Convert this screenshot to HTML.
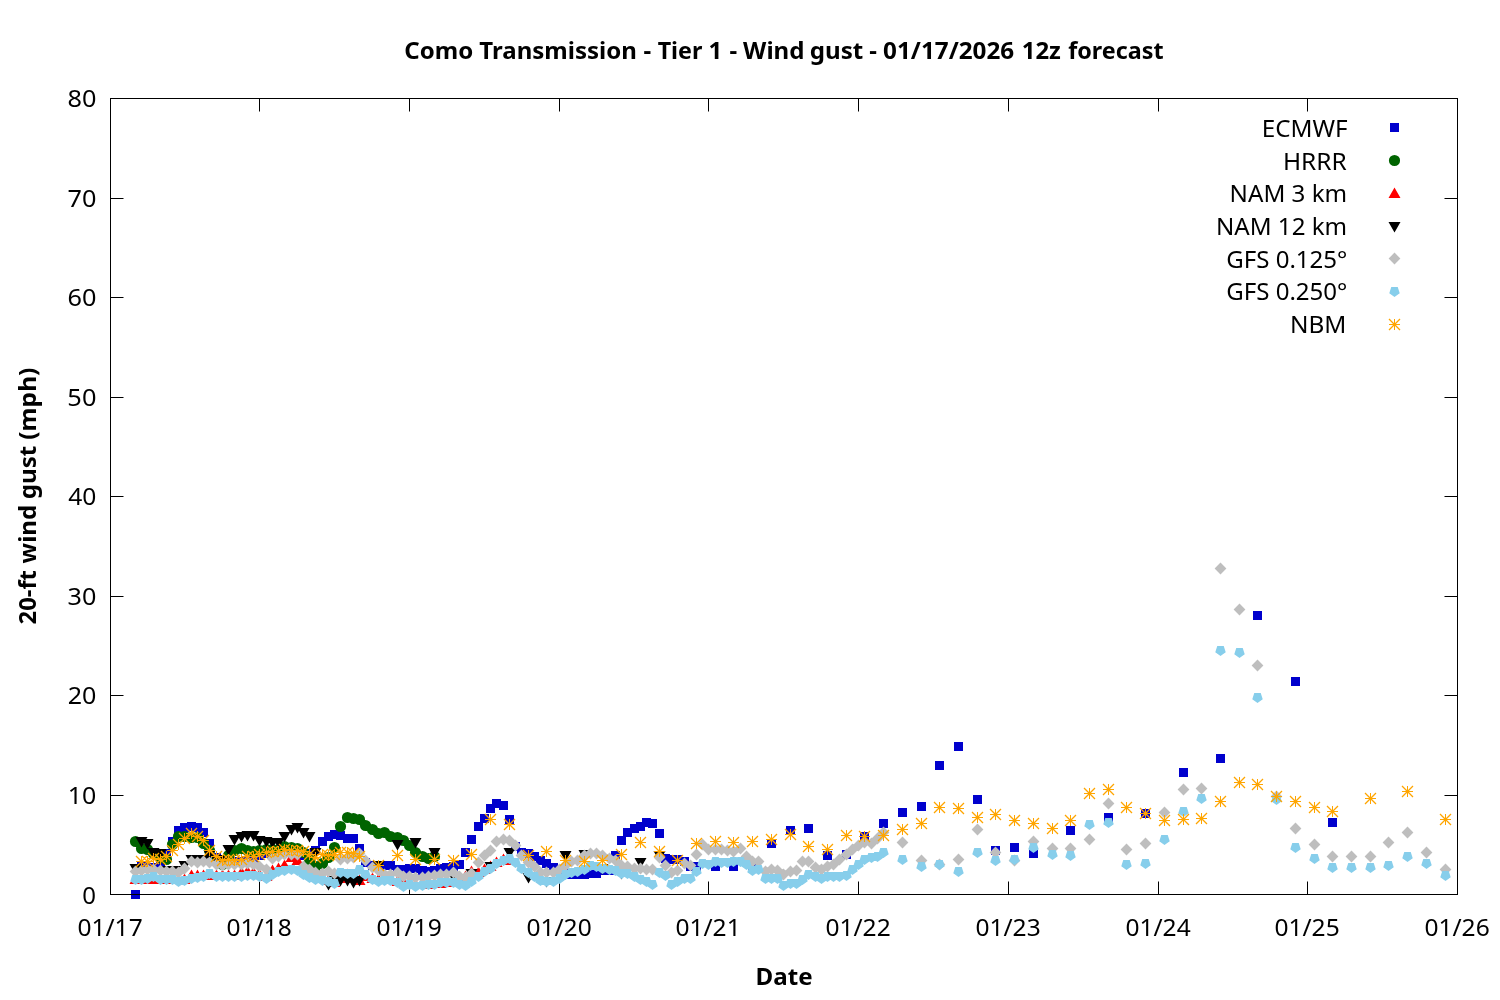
<!DOCTYPE html>
<html lang="en"><head><meta charset="utf-8"><title>Como Transmission - Tier 1 - Wind gust</title>
<style>html,body{margin:0;padding:0;background:#fff}svg{display:block}text{font-family:"Noto Sans","Liberation Sans","DejaVu Sans",sans-serif;font-size:24px;fill:#000}.b{font-weight:bold}</style></head><body>
<svg width="1500" height="1000" viewBox="0 0 1500 1000">
<rect width="1500" height="1000" fill="#fff"/>
<path d="M110.5 795.5h13M1457.5 795.5h-13M110.5 695.5h13M1457.5 695.5h-13M110.5 596.5h13M1457.5 596.5h-13M110.5 496.5h13M1457.5 496.5h-13M110.5 397.5h13M1457.5 397.5h-13M110.5 297.5h13M1457.5 297.5h-13M110.5 198.5h13M1457.5 198.5h-13M259.5 894.5v-13M259.5 98.5v13M409.5 894.5v-13M409.5 98.5v13M559.5 894.5v-13M559.5 98.5v13M708.5 894.5v-13M708.5 98.5v13M858.5 894.5v-13M858.5 98.5v13M1008.5 894.5v-13M1008.5 98.5v13M1158.5 894.5v-13M1158.5 98.5v13M1307.5 894.5v-13M1307.5 98.5v13" stroke="#000" stroke-width="1" fill="none"/>
<path d="M131 890h9v9h-9zM137 862h9v9h-9zM143 863h9v9h-9zM149 863h9v9h-9zM156 862h9v9h-9zM162 849h9v9h-9zM168 837h9v9h-9zM174 826h9v9h-9zM180 823h9v9h-9zM187 822h9v9h-9zM193 823h9v9h-9zM199 828h9v9h-9zM205 839h9v9h-9zM212 853h9v9h-9zM218 857h9v9h-9zM224 857h9v9h-9zM230 857h9v9h-9zM237 857h9v9h-9zM243 857h9v9h-9zM249 856h9v9h-9zM255 851h9v9h-9zM262 849h9v9h-9zM268 848h9v9h-9zM274 848h9v9h-9zM280 848h9v9h-9zM287 848h9v9h-9zM293 848h9v9h-9zM299 851h9v9h-9zM305 849h9v9h-9zM311 846h9v9h-9zM318 837h9v9h-9zM324 832h9v9h-9zM330 830h9v9h-9zM336 831h9v9h-9zM343 834h9v9h-9zM349 834h9v9h-9zM355 844h9v9h-9zM361 858h9v9h-9zM368 861h9v9h-9zM374 861h9v9h-9zM380 861h9v9h-9zM386 861h9v9h-9zM393 865h9v9h-9zM399 865h9v9h-9zM405 864h9v9h-9zM411 864h9v9h-9zM418 866h9v9h-9zM424 867h9v9h-9zM430 866h9v9h-9zM436 864h9v9h-9zM442 863h9v9h-9zM449 862h9v9h-9zM455 860h9v9h-9zM461 848h9v9h-9zM467 835h9v9h-9zM474 822h9v9h-9zM480 814h9v9h-9zM486 804h9v9h-9zM492 799h9v9h-9zM499 801h9v9h-9zM505 815h9v9h-9zM511 842h9v9h-9zM517 848h9v9h-9zM524 849h9v9h-9zM530 852h9v9h-9zM536 856h9v9h-9zM542 859h9v9h-9zM549 863h9v9h-9zM555 867h9v9h-9zM561 869h9v9h-9zM567 870h9v9h-9zM573 870h9v9h-9zM580 870h9v9h-9zM586 869h9v9h-9zM592 869h9v9h-9zM598 866h9v9h-9zM605 866h9v9h-9zM611 851h9v9h-9zM617 836h9v9h-9zM623 828h9v9h-9zM630 824h9v9h-9zM636 822h9v9h-9zM642 818h9v9h-9zM648 819h9v9h-9zM655 829h9v9h-9zM661 854h9v9h-9zM667 855h9v9h-9zM673 855h9v9h-9zM680 857h9v9h-9zM686 862h9v9h-9zM692 862h9v9h-9zM711 862h9v9h-9zM729 862h9v9h-9zM748 864h9v9h-9zM767 839h9v9h-9zM786 826h9v9h-9zM804 824h9v9h-9zM823 851h9v9h-9zM842 850h9v9h-9zM860 832h9v9h-9zM879 819h9v9h-9zM898 808h9v9h-9zM917 802h9v9h-9zM935 761h9v9h-9zM954 742h9v9h-9zM973 795h9v9h-9zM991 846h9v9h-9zM1010 843h9v9h-9zM1029 849h9v9h-9zM1066 826h9v9h-9zM1104 813h9v9h-9zM1141 809h9v9h-9zM1179 768h9v9h-9zM1216 754h9v9h-9zM1253 611h9v9h-9zM1291 677h9v9h-9zM1328 818h9v9h-9zM1390 123h9v9h-9z" fill="#0000cd"/>
<path d="M129.9 841.5a5.6 5.6 0 1 0 11.2 0a5.6 5.6 0 1 0 -11.2 0zM135.9 848.5a5.6 5.6 0 1 0 11.2 0a5.6 5.6 0 1 0 -11.2 0zM141.9 849.5a5.6 5.6 0 1 0 11.2 0a5.6 5.6 0 1 0 -11.2 0zM147.9 853.5a5.6 5.6 0 1 0 11.2 0a5.6 5.6 0 1 0 -11.2 0zM154.9 857.5a5.6 5.6 0 1 0 11.2 0a5.6 5.6 0 1 0 -11.2 0zM160.9 859.5a5.6 5.6 0 1 0 11.2 0a5.6 5.6 0 1 0 -11.2 0zM166.9 844.5a5.6 5.6 0 1 0 11.2 0a5.6 5.6 0 1 0 -11.2 0zM172.9 836.5a5.6 5.6 0 1 0 11.2 0a5.6 5.6 0 1 0 -11.2 0zM178.9 836.5a5.6 5.6 0 1 0 11.2 0a5.6 5.6 0 1 0 -11.2 0zM185.9 837.5a5.6 5.6 0 1 0 11.2 0a5.6 5.6 0 1 0 -11.2 0zM191.9 837.5a5.6 5.6 0 1 0 11.2 0a5.6 5.6 0 1 0 -11.2 0zM197.9 843.5a5.6 5.6 0 1 0 11.2 0a5.6 5.6 0 1 0 -11.2 0zM203.9 850.5a5.6 5.6 0 1 0 11.2 0a5.6 5.6 0 1 0 -11.2 0zM210.9 860.5a5.6 5.6 0 1 0 11.2 0a5.6 5.6 0 1 0 -11.2 0zM216.9 864.5a5.6 5.6 0 1 0 11.2 0a5.6 5.6 0 1 0 -11.2 0zM222.9 855.5a5.6 5.6 0 1 0 11.2 0a5.6 5.6 0 1 0 -11.2 0zM228.9 850.5a5.6 5.6 0 1 0 11.2 0a5.6 5.6 0 1 0 -11.2 0zM235.9 848.5a5.6 5.6 0 1 0 11.2 0a5.6 5.6 0 1 0 -11.2 0zM241.9 850.5a5.6 5.6 0 1 0 11.2 0a5.6 5.6 0 1 0 -11.2 0zM247.9 851.5a5.6 5.6 0 1 0 11.2 0a5.6 5.6 0 1 0 -11.2 0zM253.9 850.5a5.6 5.6 0 1 0 11.2 0a5.6 5.6 0 1 0 -11.2 0zM260.9 849.5a5.6 5.6 0 1 0 11.2 0a5.6 5.6 0 1 0 -11.2 0zM266.9 849.5a5.6 5.6 0 1 0 11.2 0a5.6 5.6 0 1 0 -11.2 0zM272.9 849.5a5.6 5.6 0 1 0 11.2 0a5.6 5.6 0 1 0 -11.2 0zM278.9 846.5a5.6 5.6 0 1 0 11.2 0a5.6 5.6 0 1 0 -11.2 0zM285.9 847.5a5.6 5.6 0 1 0 11.2 0a5.6 5.6 0 1 0 -11.2 0zM291.9 848.5a5.6 5.6 0 1 0 11.2 0a5.6 5.6 0 1 0 -11.2 0zM297.9 852.5a5.6 5.6 0 1 0 11.2 0a5.6 5.6 0 1 0 -11.2 0zM303.9 859.5a5.6 5.6 0 1 0 11.2 0a5.6 5.6 0 1 0 -11.2 0zM309.9 866.5a5.6 5.6 0 1 0 11.2 0a5.6 5.6 0 1 0 -11.2 0zM316.9 863.5a5.6 5.6 0 1 0 11.2 0a5.6 5.6 0 1 0 -11.2 0zM322.9 857.5a5.6 5.6 0 1 0 11.2 0a5.6 5.6 0 1 0 -11.2 0zM328.9 847.5a5.6 5.6 0 1 0 11.2 0a5.6 5.6 0 1 0 -11.2 0zM334.9 826.5a5.6 5.6 0 1 0 11.2 0a5.6 5.6 0 1 0 -11.2 0zM341.9 817.5a5.6 5.6 0 1 0 11.2 0a5.6 5.6 0 1 0 -11.2 0zM347.9 818.5a5.6 5.6 0 1 0 11.2 0a5.6 5.6 0 1 0 -11.2 0zM353.9 819.5a5.6 5.6 0 1 0 11.2 0a5.6 5.6 0 1 0 -11.2 0zM359.9 825.5a5.6 5.6 0 1 0 11.2 0a5.6 5.6 0 1 0 -11.2 0zM366.9 829.5a5.6 5.6 0 1 0 11.2 0a5.6 5.6 0 1 0 -11.2 0zM372.9 833.5a5.6 5.6 0 1 0 11.2 0a5.6 5.6 0 1 0 -11.2 0zM378.9 832.5a5.6 5.6 0 1 0 11.2 0a5.6 5.6 0 1 0 -11.2 0zM384.9 836.5a5.6 5.6 0 1 0 11.2 0a5.6 5.6 0 1 0 -11.2 0zM391.9 837.5a5.6 5.6 0 1 0 11.2 0a5.6 5.6 0 1 0 -11.2 0zM397.9 840.5a5.6 5.6 0 1 0 11.2 0a5.6 5.6 0 1 0 -11.2 0zM403.9 845.5a5.6 5.6 0 1 0 11.2 0a5.6 5.6 0 1 0 -11.2 0zM409.9 852.5a5.6 5.6 0 1 0 11.2 0a5.6 5.6 0 1 0 -11.2 0zM416.9 856.5a5.6 5.6 0 1 0 11.2 0a5.6 5.6 0 1 0 -11.2 0zM422.9 858.5a5.6 5.6 0 1 0 11.2 0a5.6 5.6 0 1 0 -11.2 0zM428.9 856.5a5.6 5.6 0 1 0 11.2 0a5.6 5.6 0 1 0 -11.2 0zM1388.9 160.5a5.6 5.6 0 1 0 11.2 0a5.6 5.6 0 1 0 -11.2 0z" fill="#006400"/>
<path d="M135.5 873.5L129.5 884L141.5 884zM141.5 873.5L135.5 884L147.5 884zM147.5 873.5L141.5 884L153.5 884zM153.5 873.5L147.5 884L159.5 884zM160.5 873.5L154.5 884L166.5 884zM166.5 873.5L160.5 884L172.5 884zM172.5 873.5L166.5 884L178.5 884zM178.5 873.5L172.5 884L184.5 884zM184.5 873.5L178.5 884L190.5 884zM191.5 869.5L185.5 880L197.5 880zM197.5 869.5L191.5 880L203.5 880zM203.5 869.5L197.5 880L209.5 880zM209.5 869.5L203.5 880L215.5 880zM216.5 869.5L210.5 880L222.5 880zM222.5 869.5L216.5 880L228.5 880zM228.5 869.5L222.5 880L234.5 880zM234.5 869.5L228.5 880L240.5 880zM241.5 866.5L235.5 877L247.5 877zM247.5 865.5L241.5 876L253.5 876zM253.5 866.5L247.5 877L259.5 877zM259.5 868.5L253.5 879L265.5 879zM266.5 870.5L260.5 881L272.5 881zM272.5 864.5L266.5 875L278.5 875zM278.5 862.5L272.5 873L284.5 873zM284.5 859.5L278.5 870L290.5 870zM291.5 851.5L285.5 862L297.5 862zM297.5 854.5L291.5 865L303.5 865zM303.5 864.5L297.5 875L309.5 875zM309.5 868.5L303.5 879L315.5 879zM315.5 870.5L309.5 881L321.5 881zM322.5 872.5L316.5 883L328.5 883zM328.5 874.5L322.5 885L334.5 885zM334.5 876.5L328.5 887L340.5 887zM340.5 872.5L334.5 883L346.5 883zM347.5 868.5L341.5 879L353.5 879zM353.5 872.5L347.5 883L359.5 883zM359.5 874.5L353.5 885L365.5 885zM365.5 870.5L359.5 881L371.5 881zM372.5 872.5L366.5 883L378.5 883zM378.5 873.5L372.5 884L384.5 884zM384.5 872.5L378.5 883L390.5 883zM390.5 871.5L384.5 882L396.5 882zM397.5 875.5L391.5 886L403.5 886zM403.5 876.5L397.5 887L409.5 887zM409.5 878.5L403.5 889L415.5 889zM415.5 878.5L409.5 889L421.5 889zM422.5 878.5L416.5 889L428.5 889zM428.5 878.5L422.5 889L434.5 889zM434.5 877.5L428.5 888L440.5 888zM440.5 877.5L434.5 888L446.5 888zM446.5 876.5L440.5 887L452.5 887zM453.5 876.5L447.5 887L459.5 887zM459.5 874.5L453.5 885L465.5 885zM465.5 870.5L459.5 881L471.5 881zM471.5 865.5L465.5 876L477.5 876zM478.5 866.5L472.5 877L484.5 877zM484.5 863.5L478.5 874L490.5 874zM490.5 860.5L484.5 871L496.5 871zM496.5 856.5L490.5 867L502.5 867zM503.5 853.5L497.5 864L509.5 864zM509.5 854.5L503.5 865L515.5 865zM1394.5 187.5L1388.5 198L1400.5 198z" fill="#ff0000"/>
<path d="M135.5 874.5L129.5 864L141.5 864zM141.5 847.5L135.5 837L147.5 837zM147.5 849.5L141.5 839L153.5 839zM153.5 858.5L147.5 848L159.5 848zM160.5 859.5L154.5 849L166.5 849zM166.5 876.5L160.5 866L172.5 866zM172.5 876.5L166.5 866L178.5 866zM178.5 876.5L172.5 866L184.5 866zM184.5 871.5L178.5 861L190.5 861zM191.5 865.5L185.5 855L197.5 855zM197.5 865.5L191.5 855L203.5 855zM203.5 865.5L197.5 855L209.5 855zM209.5 860.5L203.5 850L215.5 850zM216.5 865.5L210.5 855L222.5 855zM222.5 866.5L216.5 856L228.5 856zM228.5 855.5L222.5 845L234.5 845zM234.5 845.5L228.5 835L240.5 835zM241.5 842.5L235.5 832L247.5 832zM247.5 841.5L241.5 831L253.5 831zM253.5 841.5L247.5 831L259.5 831zM259.5 846.5L253.5 836L265.5 836zM266.5 847.5L260.5 837L272.5 837zM272.5 848.5L266.5 838L278.5 838zM278.5 848.5L272.5 838L284.5 838zM284.5 842.5L278.5 832L290.5 832zM291.5 835.5L285.5 825L297.5 825zM297.5 833.5L291.5 823L303.5 823zM303.5 838.5L297.5 828L309.5 828zM309.5 842.5L303.5 832L315.5 832zM315.5 858.5L309.5 848L321.5 848zM322.5 880.5L316.5 870L328.5 870zM328.5 890.5L322.5 880L334.5 880zM334.5 886.5L328.5 876L340.5 876zM340.5 886.5L334.5 876L346.5 876zM347.5 886.5L341.5 876L353.5 876zM353.5 888.5L347.5 878L359.5 878zM359.5 886.5L353.5 876L365.5 876zM378.5 871.5L372.5 861L384.5 861zM397.5 850.5L391.5 840L403.5 840zM415.5 848.5L409.5 838L421.5 838zM434.5 858.5L428.5 848L440.5 848zM453.5 882.5L447.5 872L459.5 872zM471.5 879.5L465.5 869L477.5 869zM490.5 872.5L484.5 862L496.5 862zM509.5 858.5L503.5 848L515.5 848zM528.5 883.5L522.5 873L534.5 873zM546.5 887.5L540.5 877L552.5 877zM565.5 861.5L559.5 851L571.5 851zM584.5 860.5L578.5 850L590.5 850zM602.5 874.5L596.5 864L608.5 864zM621.5 879.5L615.5 869L627.5 869zM640.5 868.5L634.5 858L646.5 858zM659.5 861.5L653.5 851L665.5 851zM1394.5 232.5L1388.5 222L1400.5 222z" fill="#000000"/>
<path d="M129.6 871.5L135.5 865.6L141.4 871.5L135.5 877.4zM135.6 870.5L141.5 864.6L147.4 870.5L141.5 876.4zM141.6 869.5L147.5 863.6L153.4 869.5L147.5 875.4zM147.6 869.5L153.5 863.6L159.4 869.5L153.5 875.4zM154.6 870.5L160.5 864.6L166.4 870.5L160.5 876.4zM160.6 871.5L166.5 865.6L172.4 871.5L166.5 877.4zM166.6 871.5L172.5 865.6L178.4 871.5L172.5 877.4zM172.6 872.5L178.5 866.6L184.4 872.5L178.5 878.4zM178.6 868.5L184.5 862.6L190.4 868.5L184.5 874.4zM185.6 861.5L191.5 855.6L197.4 861.5L191.5 867.4zM191.6 862.5L197.5 856.6L203.4 862.5L197.5 868.4zM197.6 861.5L203.5 855.6L209.4 861.5L203.5 867.4zM203.6 862.5L209.5 856.6L215.4 862.5L209.5 868.4zM210.6 864.5L216.5 858.6L222.4 864.5L216.5 870.4zM216.6 865.5L222.5 859.6L228.4 865.5L222.5 871.4zM222.6 864.5L228.5 858.6L234.4 864.5L228.5 870.4zM228.6 864.5L234.5 858.6L240.4 864.5L234.5 870.4zM235.6 864.5L241.5 858.6L247.4 864.5L241.5 870.4zM241.6 863.5L247.5 857.6L253.4 863.5L247.5 869.4zM247.6 864.5L253.5 858.6L259.4 864.5L253.5 870.4zM253.6 866.5L259.5 860.6L265.4 866.5L259.5 872.4zM260.6 869.5L266.5 863.6L272.4 869.5L266.5 875.4zM266.6 858.5L272.5 852.6L278.4 858.5L272.5 864.4zM272.6 856.5L278.5 850.6L284.4 856.5L278.5 862.4zM278.6 854.5L284.5 848.6L290.4 854.5L284.5 860.4zM285.6 854.5L291.5 848.6L297.4 854.5L291.5 860.4zM291.6 854.5L297.5 848.6L303.4 854.5L297.5 860.4zM297.6 866.5L303.5 860.6L309.4 866.5L303.5 872.4zM303.6 869.5L309.5 863.6L315.4 869.5L309.5 875.4zM309.6 872.5L315.5 866.6L321.4 872.5L315.5 878.4zM316.6 873.5L322.5 867.6L328.4 873.5L322.5 879.4zM322.6 871.5L328.5 865.6L334.4 871.5L328.5 877.4zM328.6 873.5L334.5 867.6L340.4 873.5L334.5 879.4zM334.6 859.5L340.5 853.6L346.4 859.5L340.5 865.4zM341.6 858.5L347.5 852.6L353.4 858.5L347.5 864.4zM347.6 857.5L353.5 851.6L359.4 857.5L353.5 863.4zM353.6 853.5L359.5 847.6L365.4 853.5L359.5 859.4zM359.6 860.5L365.5 854.6L371.4 860.5L365.5 866.4zM366.6 867.5L372.5 861.6L378.4 867.5L372.5 873.4zM372.6 870.5L378.5 864.6L384.4 870.5L378.5 876.4zM378.6 874.5L384.5 868.6L390.4 874.5L384.5 880.4zM384.6 874.5L390.5 868.6L396.4 874.5L390.5 880.4zM391.6 872.5L397.5 866.6L403.4 872.5L397.5 878.4zM397.6 876.5L403.5 870.6L409.4 876.5L403.5 882.4zM403.6 876.5L409.5 870.6L415.4 876.5L409.5 882.4zM409.6 877.5L415.5 871.6L421.4 877.5L415.5 883.4zM416.6 877.5L422.5 871.6L428.4 877.5L422.5 883.4zM422.6 876.5L428.5 870.6L434.4 876.5L428.5 882.4zM428.6 875.5L434.5 869.6L440.4 875.5L434.5 881.4zM434.6 874.5L440.5 868.6L446.4 874.5L440.5 880.4zM440.6 874.5L446.5 868.6L452.4 874.5L446.5 880.4zM447.6 872.5L453.5 866.6L459.4 872.5L453.5 878.4zM453.6 876.5L459.5 870.6L465.4 876.5L459.5 882.4zM459.6 877.5L465.5 871.6L471.4 877.5L465.5 883.4zM465.6 873.5L471.5 867.6L477.4 873.5L471.5 879.4zM472.6 862.5L478.5 856.6L484.4 862.5L478.5 868.4zM478.6 855.5L484.5 849.6L490.4 855.5L484.5 861.4zM484.6 850.5L490.5 844.6L496.4 850.5L490.5 856.4zM490.6 841.5L496.5 835.6L502.4 841.5L496.5 847.4zM497.6 839.5L503.5 833.6L509.4 839.5L503.5 845.4zM503.6 840.5L509.5 834.6L515.4 840.5L509.5 846.4zM509.6 845.5L515.5 839.6L521.4 845.5L515.5 851.4zM515.6 855.5L521.5 849.6L527.4 855.5L521.5 861.4zM522.6 862.5L528.5 856.6L534.4 862.5L528.5 868.4zM528.6 866.5L534.5 860.6L540.4 866.5L534.5 872.4zM534.6 872.5L540.5 866.6L546.4 872.5L540.5 878.4zM540.6 872.5L546.5 866.6L552.4 872.5L546.5 878.4zM547.6 872.5L553.5 866.6L559.4 872.5L553.5 878.4zM553.6 869.5L559.5 863.6L565.4 869.5L559.5 875.4zM559.6 865.5L565.5 859.6L571.4 865.5L565.5 871.4zM565.6 861.5L571.5 855.6L577.4 861.5L571.5 867.4zM571.6 860.5L577.5 854.6L583.4 860.5L577.5 866.4zM578.6 855.5L584.5 849.6L590.4 855.5L584.5 861.4zM584.6 853.5L590.5 847.6L596.4 853.5L590.5 859.4zM590.6 853.5L596.5 847.6L602.4 853.5L596.5 859.4zM596.6 855.5L602.5 849.6L608.4 855.5L602.5 861.4zM603.6 858.5L609.5 852.6L615.4 858.5L609.5 864.4zM609.6 860.5L615.5 854.6L621.4 860.5L615.5 866.4zM615.6 865.5L621.5 859.6L627.4 865.5L621.5 871.4zM621.6 866.5L627.5 860.6L633.4 866.5L627.5 872.4zM628.6 868.5L634.5 862.6L640.4 868.5L634.5 874.4zM634.6 868.5L640.5 862.6L646.4 868.5L640.5 874.4zM640.6 869.5L646.5 863.6L652.4 869.5L646.5 875.4zM646.6 869.5L652.5 863.6L658.4 869.5L652.5 875.4zM653.6 857.5L659.5 851.6L665.4 857.5L659.5 863.4zM659.6 865.5L665.5 859.6L671.4 865.5L665.5 871.4zM665.6 872.5L671.5 866.6L677.4 872.5L671.5 878.4zM671.6 870.5L677.5 864.6L683.4 870.5L677.5 876.4zM678.6 863.5L684.5 857.6L690.4 863.5L684.5 869.4zM684.6 865.5L690.5 859.6L696.4 865.5L690.5 871.4zM690.6 854.5L696.5 848.6L702.4 854.5L696.5 860.4zM696.6 844.5L702.5 838.6L708.4 844.5L702.5 850.4zM702.6 849.5L708.5 843.6L714.4 849.5L708.5 855.4zM709.6 849.5L715.5 843.6L721.4 849.5L715.5 855.4zM715.6 849.5L721.5 843.6L727.4 849.5L721.5 855.4zM721.6 850.5L727.5 844.6L733.4 850.5L727.5 856.4zM727.6 851.5L733.5 845.6L739.4 851.5L733.5 857.4zM734.6 848.5L740.5 842.6L746.4 848.5L740.5 854.4zM740.6 856.5L746.5 850.6L752.4 856.5L746.5 862.4zM746.6 861.5L752.5 855.6L758.4 861.5L752.5 867.4zM752.6 861.5L758.5 855.6L764.4 861.5L758.5 867.4zM759.6 871.5L765.5 865.6L771.4 871.5L765.5 877.4zM765.6 869.5L771.5 863.6L777.4 869.5L771.5 875.4zM771.6 870.5L777.5 864.6L783.4 870.5L777.5 876.4zM777.6 874.5L783.5 868.6L789.4 874.5L783.5 880.4zM784.6 871.5L790.5 865.6L796.4 871.5L790.5 877.4zM790.6 870.5L796.5 864.6L802.4 870.5L796.5 876.4zM796.6 861.5L802.5 855.6L808.4 861.5L802.5 867.4zM802.6 861.5L808.5 855.6L814.4 861.5L808.5 867.4zM809.6 867.5L815.5 861.6L821.4 867.5L815.5 873.4zM815.6 869.5L821.5 863.6L827.4 869.5L821.5 875.4zM821.6 866.5L827.5 860.6L833.4 866.5L827.5 872.4zM827.6 864.5L833.5 858.6L839.4 864.5L833.5 870.4zM833.6 859.5L839.5 853.6L845.4 859.5L839.5 865.4zM840.6 854.5L846.5 848.6L852.4 854.5L846.5 860.4zM846.6 849.5L852.5 843.6L858.4 849.5L852.5 855.4zM852.6 845.5L858.5 839.6L864.4 845.5L858.5 851.4zM858.6 842.5L864.5 836.6L870.4 842.5L864.5 848.4zM865.6 843.5L871.5 837.6L877.4 843.5L871.5 849.4zM871.6 838.5L877.5 832.6L883.4 838.5L877.5 844.4zM877.6 832.5L883.5 826.6L889.4 832.5L883.5 838.4zM896.6 842.5L902.5 836.6L908.4 842.5L902.5 848.4zM915.6 860.5L921.5 854.6L927.4 860.5L921.5 866.4zM933.6 864.5L939.5 858.6L945.4 864.5L939.5 870.4zM952.6 859.5L958.5 853.6L964.4 859.5L958.5 865.4zM971.6 829.5L977.5 823.6L983.4 829.5L977.5 835.4zM989.6 852.5L995.5 846.6L1001.4 852.5L995.5 858.4zM1008.6 860.5L1014.5 854.6L1020.4 860.5L1014.5 866.4zM1027.6 841.5L1033.5 835.6L1039.4 841.5L1033.5 847.4zM1046.6 848.5L1052.5 842.6L1058.4 848.5L1052.5 854.4zM1064.6 848.5L1070.5 842.6L1076.4 848.5L1070.5 854.4zM1083.6 839.5L1089.5 833.6L1095.4 839.5L1089.5 845.4zM1102.6 803.5L1108.5 797.6L1114.4 803.5L1108.5 809.4zM1120.6 849.5L1126.5 843.6L1132.4 849.5L1126.5 855.4zM1139.6 843.5L1145.5 837.6L1151.4 843.5L1145.5 849.4zM1158.6 812.5L1164.5 806.6L1170.4 812.5L1164.5 818.4zM1177.6 789.5L1183.5 783.6L1189.4 789.5L1183.5 795.4zM1195.6 788.5L1201.5 782.6L1207.4 788.5L1201.5 794.4zM1214.6 568.5L1220.5 562.6L1226.4 568.5L1220.5 574.4zM1233.6 609.5L1239.5 603.6L1245.4 609.5L1239.5 615.4zM1251.6 665.5L1257.5 659.6L1263.4 665.5L1257.5 671.4zM1270.6 796.5L1276.5 790.6L1282.4 796.5L1276.5 802.4zM1289.6 828.5L1295.5 822.6L1301.4 828.5L1295.5 834.4zM1308.6 844.5L1314.5 838.6L1320.4 844.5L1314.5 850.4zM1326.6 856.5L1332.5 850.6L1338.4 856.5L1332.5 862.4zM1345.6 856.5L1351.5 850.6L1357.4 856.5L1351.5 862.4zM1364.6 856.5L1370.5 850.6L1376.4 856.5L1370.5 862.4zM1382.6 842.5L1388.5 836.6L1394.4 842.5L1388.5 848.4zM1401.6 832.5L1407.5 826.6L1413.4 832.5L1407.5 838.4zM1420.6 852.5L1426.5 846.6L1432.4 852.5L1426.5 858.4zM1439.6 869.5L1445.5 863.6L1451.4 869.5L1445.5 875.4zM1388.6 258.5L1394.5 252.6L1400.4 258.5L1394.5 264.4z" fill="#bebebe"/>
<path d="M138.73 875.05L132.27 875.05L130.27 881.2L135.5 885L140.73 881.2zM144.73 875.05L138.27 875.05L136.27 881.2L141.5 885L146.73 881.2zM150.73 874.05L144.27 874.05L142.27 880.2L147.5 884L152.73 880.2zM156.73 872.05L150.27 872.05L148.27 878.2L153.5 882L158.73 878.2zM163.73 875.05L157.27 875.05L155.27 881.2L160.5 885L165.73 881.2zM169.73 875.05L163.27 875.05L161.27 881.2L166.5 885L171.73 881.2zM175.73 875.05L169.27 875.05L167.27 881.2L172.5 885L177.73 881.2zM181.73 877.05L175.27 877.05L173.27 883.2L178.5 887L183.73 883.2zM187.73 876.05L181.27 876.05L179.27 882.2L184.5 886L189.73 882.2zM194.73 874.05L188.27 874.05L186.27 880.2L191.5 884L196.73 880.2zM200.73 873.05L194.27 873.05L192.27 879.2L197.5 883L202.73 879.2zM206.73 872.05L200.27 872.05L198.27 878.2L203.5 882L208.73 878.2zM212.73 869.05L206.27 869.05L204.27 875.2L209.5 879L214.73 875.2zM219.73 872.05L213.27 872.05L211.27 878.2L216.5 882L221.73 878.2zM225.73 872.05L219.27 872.05L217.27 878.2L222.5 882L227.73 878.2zM231.73 872.05L225.27 872.05L223.27 878.2L228.5 882L233.73 878.2zM237.73 872.05L231.27 872.05L229.27 878.2L234.5 882L239.73 878.2zM244.73 872.05L238.27 872.05L236.27 878.2L241.5 882L246.73 878.2zM250.73 871.05L244.27 871.05L242.27 877.2L247.5 881L252.73 877.2zM256.73 871.05L250.27 871.05L248.27 877.2L253.5 881L258.73 877.2zM262.73 872.05L256.27 872.05L254.27 878.2L259.5 882L264.73 878.2zM269.73 874.05L263.27 874.05L261.27 880.2L266.5 884L271.73 880.2zM275.73 870.05L269.27 870.05L267.27 876.2L272.5 880L277.73 876.2zM281.73 867.05L275.27 867.05L273.27 873.2L278.5 877L283.73 873.2zM287.73 866.05L281.27 866.05L279.27 872.2L284.5 876L289.73 872.2zM294.73 865.05L288.27 865.05L286.27 871.2L291.5 875L296.73 871.2zM300.73 866.05L294.27 866.05L292.27 872.2L297.5 876L302.73 872.2zM306.73 870.05L300.27 870.05L298.27 876.2L303.5 880L308.73 876.2zM312.73 873.05L306.27 873.05L304.27 879.2L309.5 883L314.73 879.2zM318.73 875.05L312.27 875.05L310.27 881.2L315.5 885L320.73 881.2zM325.73 876.05L319.27 876.05L317.27 882.2L322.5 886L327.73 882.2zM331.73 877.05L325.27 877.05L323.27 883.2L328.5 887L333.73 883.2zM337.73 879.05L331.27 879.05L329.27 885.2L334.5 889L339.73 885.2zM343.73 868.05L337.27 868.05L335.27 874.2L340.5 878L345.73 874.2zM350.73 869.05L344.27 869.05L342.27 875.2L347.5 879L352.73 875.2zM356.73 869.05L350.27 869.05L348.27 875.2L353.5 879L358.73 875.2zM362.73 865.05L356.27 865.05L354.27 871.2L359.5 875L364.73 871.2zM368.73 870.05L362.27 870.05L360.27 876.2L365.5 880L370.73 876.2zM375.73 875.05L369.27 875.05L367.27 881.2L372.5 885L377.73 881.2zM381.73 877.05L375.27 877.05L373.27 883.2L378.5 887L383.73 883.2zM387.73 876.05L381.27 876.05L379.27 882.2L384.5 886L389.73 882.2zM393.73 876.05L387.27 876.05L385.27 882.2L390.5 886L395.73 882.2zM400.73 878.05L394.27 878.05L392.27 884.2L397.5 888L402.73 884.2zM406.73 882.05L400.27 882.05L398.27 888.2L403.5 892L408.73 888.2zM412.73 880.05L406.27 880.05L404.27 886.2L409.5 890L414.73 886.2zM418.73 882.05L412.27 882.05L410.27 888.2L415.5 892L420.73 888.2zM425.73 881.05L419.27 881.05L417.27 887.2L422.5 891L427.73 887.2zM431.73 880.05L425.27 880.05L423.27 886.2L428.5 890L433.73 886.2zM437.73 880.05L431.27 880.05L429.27 886.2L434.5 890L439.73 886.2zM443.73 878.05L437.27 878.05L435.27 884.2L440.5 888L445.73 884.2zM449.73 878.05L443.27 878.05L441.27 884.2L446.5 888L451.73 884.2zM456.73 878.05L450.27 878.05L448.27 884.2L453.5 888L458.73 884.2zM462.73 880.05L456.27 880.05L454.27 886.2L459.5 890L464.73 886.2zM468.73 881.05L462.27 881.05L460.27 887.2L465.5 891L470.73 887.2zM474.73 877.05L468.27 877.05L466.27 883.2L471.5 887L476.73 883.2zM481.73 872.05L475.27 872.05L473.27 878.2L478.5 882L483.73 878.2zM487.73 867.05L481.27 867.05L479.27 873.2L484.5 877L489.73 873.2zM493.73 864.05L487.27 864.05L485.27 870.2L490.5 874L495.73 870.2zM499.73 859.05L493.27 859.05L491.27 865.2L496.5 869L501.73 865.2zM506.73 856.05L500.27 856.05L498.27 862.2L503.5 866L508.73 862.2zM512.73 854.05L506.27 854.05L504.27 860.2L509.5 864L514.73 860.2zM518.73 858.05L512.27 858.05L510.27 864.2L515.5 868L520.73 864.2zM524.73 864.05L518.27 864.05L516.27 870.2L521.5 874L526.73 870.2zM531.73 868.05L525.27 868.05L523.27 874.2L528.5 878L533.73 874.2zM537.73 872.05L531.27 872.05L529.27 878.2L534.5 882L539.73 878.2zM543.73 876.05L537.27 876.05L535.27 882.2L540.5 886L545.73 882.2zM549.73 877.05L543.27 877.05L541.27 883.2L546.5 887L551.73 883.2zM556.73 877.05L550.27 877.05L548.27 883.2L553.5 887L558.73 883.2zM562.73 874.05L556.27 874.05L554.27 880.2L559.5 884L564.73 880.2zM568.73 870.05L562.27 870.05L560.27 876.2L565.5 880L570.73 876.2zM574.73 868.05L568.27 868.05L566.27 874.2L571.5 878L576.73 874.2zM580.73 867.05L574.27 867.05L572.27 873.2L577.5 877L582.73 873.2zM587.73 865.05L581.27 865.05L579.27 871.2L584.5 875L589.73 871.2zM593.73 861.05L587.27 861.05L585.27 867.2L590.5 871L595.73 867.2zM599.73 862.05L593.27 862.05L591.27 868.2L596.5 872L601.73 868.2zM605.73 864.05L599.27 864.05L597.27 870.2L602.5 874L607.73 870.2zM612.73 865.05L606.27 865.05L604.27 871.2L609.5 875L614.73 871.2zM618.73 866.05L612.27 866.05L610.27 872.2L615.5 876L620.73 872.2zM624.73 869.05L618.27 869.05L616.27 875.2L621.5 879L626.73 875.2zM630.73 869.05L624.27 869.05L622.27 875.2L627.5 879L632.73 875.2zM637.73 872.05L631.27 872.05L629.27 878.2L634.5 882L639.73 878.2zM643.73 875.05L637.27 875.05L635.27 881.2L640.5 885L645.73 881.2zM649.73 877.05L643.27 877.05L641.27 883.2L646.5 887L651.73 883.2zM655.73 880.05L649.27 880.05L647.27 886.2L652.5 890L657.73 886.2zM662.73 868.05L656.27 868.05L654.27 874.2L659.5 878L664.73 874.2zM668.73 871.05L662.27 871.05L660.27 877.2L665.5 881L670.73 877.2zM674.73 880.05L668.27 880.05L666.27 886.2L671.5 890L676.73 886.2zM680.73 877.05L674.27 877.05L672.27 883.2L677.5 887L682.73 883.2zM687.73 874.05L681.27 874.05L679.27 880.2L684.5 884L689.73 880.2zM693.73 874.05L687.27 874.05L685.27 880.2L690.5 884L695.73 880.2zM699.73 867.05L693.27 867.05L691.27 873.2L696.5 877L701.73 873.2zM705.73 859.05L699.27 859.05L697.27 865.2L702.5 869L707.73 865.2zM711.73 860.05L705.27 860.05L703.27 866.2L708.5 870L713.73 866.2zM718.73 857.05L712.27 857.05L710.27 863.2L715.5 867L720.73 863.2zM724.73 858.05L718.27 858.05L716.27 864.2L721.5 868L726.73 864.2zM730.73 858.05L724.27 858.05L722.27 864.2L727.5 868L732.73 864.2zM736.73 857.05L730.27 857.05L728.27 863.2L733.5 867L738.73 863.2zM743.73 857.05L737.27 857.05L735.27 863.2L740.5 867L745.73 863.2zM749.73 860.05L743.27 860.05L741.27 866.2L746.5 870L751.73 866.2zM755.73 866.05L749.27 866.05L747.27 872.2L752.5 876L757.73 872.2zM761.73 865.05L755.27 865.05L753.27 871.2L758.5 875L763.73 871.2zM768.73 874.05L762.27 874.05L760.27 880.2L765.5 884L770.73 880.2zM774.73 874.05L768.27 874.05L766.27 880.2L771.5 884L776.73 880.2zM780.73 874.05L774.27 874.05L772.27 880.2L777.5 884L782.73 880.2zM786.73 881.05L780.27 881.05L778.27 887.2L783.5 891L788.73 887.2zM793.73 879.05L787.27 879.05L785.27 885.2L790.5 889L795.73 885.2zM799.73 879.05L793.27 879.05L791.27 885.2L796.5 889L801.73 885.2zM805.73 875.05L799.27 875.05L797.27 881.2L802.5 885L807.73 881.2zM811.73 870.05L805.27 870.05L803.27 876.2L808.5 880L813.73 876.2zM818.73 872.05L812.27 872.05L810.27 878.2L815.5 882L820.73 878.2zM824.73 874.05L818.27 874.05L816.27 880.2L821.5 884L826.73 880.2zM830.73 872.05L824.27 872.05L822.27 878.2L827.5 882L832.73 878.2zM836.73 872.05L830.27 872.05L828.27 878.2L833.5 882L838.73 878.2zM842.73 872.05L836.27 872.05L834.27 878.2L839.5 882L844.73 878.2zM849.73 871.05L843.27 871.05L841.27 877.2L846.5 881L851.73 877.2zM855.73 865.05L849.27 865.05L847.27 871.2L852.5 875L857.73 871.2zM861.73 860.05L855.27 860.05L853.27 866.2L858.5 870L863.73 866.2zM867.73 855.05L861.27 855.05L859.27 861.2L864.5 865L869.73 861.2zM874.73 853.05L868.27 853.05L866.27 859.2L871.5 863L876.73 859.2zM880.73 852.05L874.27 852.05L872.27 858.2L877.5 862L882.73 858.2zM886.73 848.05L880.27 848.05L878.27 854.2L883.5 858L888.73 854.2zM905.73 855.05L899.27 855.05L897.27 861.2L902.5 865L907.73 861.2zM924.73 862.05L918.27 862.05L916.27 868.2L921.5 872L926.73 868.2zM942.73 860.05L936.27 860.05L934.27 866.2L939.5 870L944.73 866.2zM961.73 867.05L955.27 867.05L953.27 873.2L958.5 877L963.73 873.2zM980.73 848.05L974.27 848.05L972.27 854.2L977.5 858L982.73 854.2zM998.73 856.05L992.27 856.05L990.27 862.2L995.5 866L1000.73 862.2zM1017.73 855.05L1011.27 855.05L1009.27 861.2L1014.5 865L1019.73 861.2zM1036.73 843.05L1030.27 843.05L1028.27 849.2L1033.5 853L1038.73 849.2zM1055.73 850.05L1049.27 850.05L1047.27 856.2L1052.5 860L1057.73 856.2zM1073.73 851.05L1067.27 851.05L1065.27 857.2L1070.5 861L1075.73 857.2zM1092.73 820.05L1086.27 820.05L1084.27 826.2L1089.5 830L1094.73 826.2zM1111.73 818.05L1105.27 818.05L1103.27 824.2L1108.5 828L1113.73 824.2zM1129.73 860.05L1123.27 860.05L1121.27 866.2L1126.5 870L1131.73 866.2zM1148.73 859.05L1142.27 859.05L1140.27 865.2L1145.5 869L1150.73 865.2zM1167.73 835.05L1161.27 835.05L1159.27 841.2L1164.5 845L1169.73 841.2zM1186.73 807.05L1180.27 807.05L1178.27 813.2L1183.5 817L1188.73 813.2zM1204.73 794.05L1198.27 794.05L1196.27 800.2L1201.5 804L1206.73 800.2zM1223.73 646.05L1217.27 646.05L1215.27 652.2L1220.5 656L1225.73 652.2zM1242.73 648.05L1236.27 648.05L1234.27 654.2L1239.5 658L1244.73 654.2zM1260.73 693.05L1254.27 693.05L1252.27 699.2L1257.5 703L1262.73 699.2zM1279.73 795.05L1273.27 795.05L1271.27 801.2L1276.5 805L1281.73 801.2zM1298.73 843.05L1292.27 843.05L1290.27 849.2L1295.5 853L1300.73 849.2zM1317.73 854.05L1311.27 854.05L1309.27 860.2L1314.5 864L1319.73 860.2zM1335.73 863.05L1329.27 863.05L1327.27 869.2L1332.5 873L1337.73 869.2zM1354.73 863.05L1348.27 863.05L1346.27 869.2L1351.5 873L1356.73 869.2zM1373.73 863.05L1367.27 863.05L1365.27 869.2L1370.5 873L1375.73 869.2zM1391.73 861.05L1385.27 861.05L1383.27 867.2L1388.5 871L1393.73 867.2zM1410.73 852.05L1404.27 852.05L1402.27 858.2L1407.5 862L1412.73 858.2zM1429.73 859.05L1423.27 859.05L1421.27 865.2L1426.5 869L1431.73 865.2zM1448.73 871.05L1442.27 871.05L1440.27 877.2L1445.5 881L1450.73 877.2zM1397.73 287.05L1391.27 287.05L1389.27 293.2L1394.5 297L1399.73 293.2z" fill="#87ceeb"/>
<path d="M136 861.5h11M141.5 856v11M142 861.5h11M147.5 856v11M148 858.5h11M153.5 853v11M155 859.5h11M160.5 854v11M161 856.5h11M166.5 851v11M167 850.5h11M172.5 845v11M173 844.5h11M178.5 839v11M179 838.5h11M184.5 833v11M186 833.5h11M191.5 828v11M192 836.5h11M197.5 831v11M198 840.5h11M203.5 835v11M204 850.5h11M209.5 845v11M211 856.5h11M216.5 851v11M217 860.5h11M222.5 855v11M223 859.5h11M228.5 854v11M229 860.5h11M234.5 855v11M236 859.5h11M241.5 854v11M242 856.5h11M247.5 851v11M248 856.5h11M253.5 851v11M254 854.5h11M259.5 849v11M261 852.5h11M266.5 847v11M267 851.5h11M272.5 846v11M273 851.5h11M278.5 846v11M279 849.5h11M284.5 844v11M286 850.5h11M291.5 845v11M292 850.5h11M297.5 845v11M298 851.5h11M303.5 846v11M304 854.5h11M309.5 849v11M310 857.5h11M315.5 852v11M317 854.5h11M322.5 849v11M323 855.5h11M328.5 850v11M329 854.5h11M334.5 849v11M335 852.5h11M340.5 847v11M342 852.5h11M347.5 847v11M348 853.5h11M353.5 848v11M354 856.5h11M359.5 851v11M373 865.5h11M378.5 860v11M392 855.5h11M397.5 850v11M410 859.5h11M415.5 854v11M429 859.5h11M434.5 854v11M448 860.5h11M453.5 855v11M466 854.5h11M471.5 849v11M485 819.5h11M490.5 814v11M504 824.5h11M509.5 819v11M523 855.5h11M528.5 850v11M541 851.5h11M546.5 846v11M560 860.5h11M565.5 855v11M579 861.5h11M584.5 856v11M597 860.5h11M602.5 855v11M616 854.5h11M621.5 849v11M635 842.5h11M640.5 837v11M654 851.5h11M659.5 846v11M672 860.5h11M677.5 855v11M691 843.5h11M696.5 838v11M710 841.5h11M715.5 836v11M728 842.5h11M733.5 837v11M747 841.5h11M752.5 836v11M766 839.5h11M771.5 834v11M785 834.5h11M790.5 829v11M803 846.5h11M808.5 841v11M822 849.5h11M827.5 844v11M841 835.5h11M846.5 830v11M859 836.5h11M864.5 831v11M878 835.5h11M883.5 830v11M897 829.5h11M902.5 824v11M916 823.5h11M921.5 818v11M934 807.5h11M939.5 802v11M953 808.5h11M958.5 803v11M972 817.5h11M977.5 812v11M990 814.5h11M995.5 809v11M1009 820.5h11M1014.5 815v11M1028 823.5h11M1033.5 818v11M1047 828.5h11M1052.5 823v11M1065 820.5h11M1070.5 815v11M1084 793.5h11M1089.5 788v11M1103 789.5h11M1108.5 784v11M1121 807.5h11M1126.5 802v11M1140 813.5h11M1145.5 808v11M1159 820.5h11M1164.5 815v11M1178 819.5h11M1183.5 814v11M1196 818.5h11M1201.5 813v11M1215 801.5h11M1220.5 796v11M1234 782.5h11M1239.5 777v11M1252 784.5h11M1257.5 779v11M1271 796.5h11M1276.5 791v11M1290 801.5h11M1295.5 796v11M1309 807.5h11M1314.5 802v11M1327 811.5h11M1332.5 806v11M1365 798.5h11M1370.5 793v11M1402 791.5h11M1407.5 786v11M1440 819.5h11M1445.5 814v11M1389 324.5h11M1394.5 319v11" stroke="#ffa500" stroke-width="1" fill="none"/>
<path d="M136 856l11 11M136 867l11 -11M142 856l11 11M142 867l11 -11M148 853l11 11M148 864l11 -11M155 854l11 11M155 865l11 -11M161 851l11 11M161 862l11 -11M167 845l11 11M167 856l11 -11M173 839l11 11M173 850l11 -11M179 833l11 11M179 844l11 -11M186 828l11 11M186 839l11 -11M192 831l11 11M192 842l11 -11M198 835l11 11M198 846l11 -11M204 845l11 11M204 856l11 -11M211 851l11 11M211 862l11 -11M217 855l11 11M217 866l11 -11M223 854l11 11M223 865l11 -11M229 855l11 11M229 866l11 -11M236 854l11 11M236 865l11 -11M242 851l11 11M242 862l11 -11M248 851l11 11M248 862l11 -11M254 849l11 11M254 860l11 -11M261 847l11 11M261 858l11 -11M267 846l11 11M267 857l11 -11M273 846l11 11M273 857l11 -11M279 844l11 11M279 855l11 -11M286 845l11 11M286 856l11 -11M292 845l11 11M292 856l11 -11M298 846l11 11M298 857l11 -11M304 849l11 11M304 860l11 -11M310 852l11 11M310 863l11 -11M317 849l11 11M317 860l11 -11M323 850l11 11M323 861l11 -11M329 849l11 11M329 860l11 -11M335 847l11 11M335 858l11 -11M342 847l11 11M342 858l11 -11M348 848l11 11M348 859l11 -11M354 851l11 11M354 862l11 -11M373 860l11 11M373 871l11 -11M392 850l11 11M392 861l11 -11M410 854l11 11M410 865l11 -11M429 854l11 11M429 865l11 -11M448 855l11 11M448 866l11 -11M466 849l11 11M466 860l11 -11M485 814l11 11M485 825l11 -11M504 819l11 11M504 830l11 -11M523 850l11 11M523 861l11 -11M541 846l11 11M541 857l11 -11M560 855l11 11M560 866l11 -11M579 856l11 11M579 867l11 -11M597 855l11 11M597 866l11 -11M616 849l11 11M616 860l11 -11M635 837l11 11M635 848l11 -11M654 846l11 11M654 857l11 -11M672 855l11 11M672 866l11 -11M691 838l11 11M691 849l11 -11M710 836l11 11M710 847l11 -11M728 837l11 11M728 848l11 -11M747 836l11 11M747 847l11 -11M766 834l11 11M766 845l11 -11M785 829l11 11M785 840l11 -11M803 841l11 11M803 852l11 -11M822 844l11 11M822 855l11 -11M841 830l11 11M841 841l11 -11M859 831l11 11M859 842l11 -11M878 830l11 11M878 841l11 -11M897 824l11 11M897 835l11 -11M916 818l11 11M916 829l11 -11M934 802l11 11M934 813l11 -11M953 803l11 11M953 814l11 -11M972 812l11 11M972 823l11 -11M990 809l11 11M990 820l11 -11M1009 815l11 11M1009 826l11 -11M1028 818l11 11M1028 829l11 -11M1047 823l11 11M1047 834l11 -11M1065 815l11 11M1065 826l11 -11M1084 788l11 11M1084 799l11 -11M1103 784l11 11M1103 795l11 -11M1121 802l11 11M1121 813l11 -11M1140 808l11 11M1140 819l11 -11M1159 815l11 11M1159 826l11 -11M1178 814l11 11M1178 825l11 -11M1196 813l11 11M1196 824l11 -11M1215 796l11 11M1215 807l11 -11M1234 777l11 11M1234 788l11 -11M1252 779l11 11M1252 790l11 -11M1271 791l11 11M1271 802l11 -11M1290 796l11 11M1290 807l11 -11M1309 802l11 11M1309 813l11 -11M1327 806l11 11M1327 817l11 -11M1365 793l11 11M1365 804l11 -11M1402 786l11 11M1402 797l11 -11M1440 814l11 11M1440 825l11 -11M1389 319l11 11M1389 330l11 -11" stroke="#ffa500" stroke-width="1.3" fill="none"/>
<rect x="110.5" y="98.5" width="1347.0" height="796.0" fill="none" stroke="#000" stroke-width="1"/>
<text class="b" y="59"><tspan x="404.24" textLength="68.92" lengthAdjust="spacingAndGlyphs">Como</tspan> <tspan x="479.34" textLength="157.57" lengthAdjust="spacingAndGlyphs">Transmission</tspan> <tspan x="643.38">-</tspan> <tspan x="657.64" textLength="44.76" lengthAdjust="spacingAndGlyphs">Tier</tspan> <tspan x="708.47">1</tspan> <tspan x="729.39">-</tspan> <tspan x="743.11" textLength="61.36" lengthAdjust="spacingAndGlyphs">Wind</tspan> <tspan x="809.82" textLength="53.51" lengthAdjust="spacingAndGlyphs">gust</tspan> <tspan x="869.28">-</tspan> <tspan x="883.05" textLength="131.2" lengthAdjust="spacingAndGlyphs">01/17/2026</tspan> <tspan x="1021.76" textLength="39.1" lengthAdjust="spacingAndGlyphs">12z</tspan> <tspan x="1068.24" textLength="95.33" lengthAdjust="spacingAndGlyphs">forecast</tspan></text>
<text y="904" x="82.29">0</text>
<text y="804" x="67.82" textLength="28.54" lengthAdjust="spacingAndGlyphs">10</text>
<text y="704" x="67.68" textLength="28.67" lengthAdjust="spacingAndGlyphs">20</text>
<text y="605" x="67.62" textLength="28.77" lengthAdjust="spacingAndGlyphs">30</text>
<text y="505" x="68.3" textLength="28.13" lengthAdjust="spacingAndGlyphs">40</text>
<text y="406" x="67.39" textLength="29.02" lengthAdjust="spacingAndGlyphs">50</text>
<text y="306" x="67.53" textLength="28.93" lengthAdjust="spacingAndGlyphs">60</text>
<text y="207" x="67.51" textLength="28.88" lengthAdjust="spacingAndGlyphs">70</text>
<text y="107" x="67.5" textLength="28.88" lengthAdjust="spacingAndGlyphs">80</text>
<text y="936" x="77.42" textLength="65.28" lengthAdjust="spacingAndGlyphs">01/17</text>
<text y="936" x="226.42" textLength="65.28" lengthAdjust="spacingAndGlyphs">01/18</text>
<text y="936" x="376.42" textLength="65.28" lengthAdjust="spacingAndGlyphs">01/19</text>
<text y="936" x="526.42" textLength="65.28" lengthAdjust="spacingAndGlyphs">01/20</text>
<text y="936" x="675.42" textLength="65.28" lengthAdjust="spacingAndGlyphs">01/21</text>
<text y="936" x="825.42" textLength="65.28" lengthAdjust="spacingAndGlyphs">01/22</text>
<text y="936" x="975.42" textLength="65.28" lengthAdjust="spacingAndGlyphs">01/23</text>
<text y="936" x="1125.42" textLength="65.28" lengthAdjust="spacingAndGlyphs">01/24</text>
<text y="936" x="1274.42" textLength="65.28" lengthAdjust="spacingAndGlyphs">01/25</text>
<text y="936" x="1424.42" textLength="65.28" lengthAdjust="spacingAndGlyphs">01/26</text>
<text class="b" y="985" x="755.5" textLength="57.06" lengthAdjust="spacingAndGlyphs">Date</text>
<text class="b" transform="rotate(-90)" y="36"><tspan x="-624.42" textLength="54.33" lengthAdjust="spacingAndGlyphs">20-ft</tspan> <tspan x="-563.42" textLength="58.55" lengthAdjust="spacingAndGlyphs">wind</tspan> <tspan x="-499.31" textLength="53.62" lengthAdjust="spacingAndGlyphs">gust</tspan> <tspan x="-439.72" textLength="72.18" lengthAdjust="spacingAndGlyphs">(mph)</tspan></text>
<text y="137" x="1261.77" textLength="85.94" lengthAdjust="spacingAndGlyphs">ECMWF</text>
<text y="170" x="1282.97" textLength="63.83" lengthAdjust="spacingAndGlyphs">HRRR</text>
<text y="202" x="1229.58" textLength="117.59" lengthAdjust="spacingAndGlyphs">NAM 3 km</text>
<text y="235" x="1216" textLength="131.16" lengthAdjust="spacingAndGlyphs">NAM 12 km</text>
<text y="268" x="1226.23" textLength="121.15" lengthAdjust="spacingAndGlyphs">GFS 0.125°</text>
<text y="300" x="1226.23" textLength="121.15" lengthAdjust="spacingAndGlyphs">GFS 0.250°</text>
<text y="333" x="1290.01" textLength="56.41" lengthAdjust="spacingAndGlyphs">NBM</text>
</svg></body></html>
